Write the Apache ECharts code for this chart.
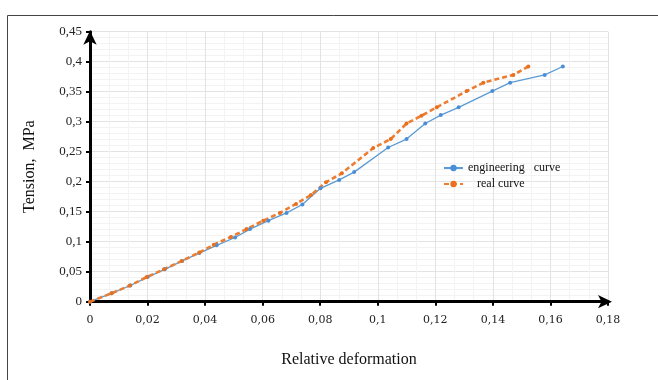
<!DOCTYPE html>
<html>
<head>
<meta charset="utf-8">
<script src="https://cdn.jsdelivr.net/npm/echarts@6/dist/echarts.min.js"></script>
<style>html,body{margin:0;padding:0;background:#fff;}#c{width:658px;height:380px;}</style>
</head>
<body>
<div id="c"></div>
<script>
const engX = [0, 0.0075, 0.014, 0.020, 0.026, 0.032, 0.038, 0.044, 0.0504, 0.0556, 0.062, 0.0683, 0.0738, 0.0801, 0.0866, 0.0918, 0.1036, 0.110, 0.1165, 0.1219, 0.1281, 0.1398, 0.146, 0.158, 0.1643];
const engY = [0, 0.014, 0.027, 0.041, 0.054, 0.068, 0.081, 0.094, 0.107, 0.121, 0.135, 0.148, 0.162, 0.189, 0.203, 0.216, 0.257, 0.271, 0.297, 0.311, 0.324, 0.351, 0.365, 0.378, 0.392];
const realX = [0, 0.0075, 0.0139, 0.0197, 0.0257, 0.0319, 0.038, 0.043, 0.049, 0.0544, 0.0602, 0.066, 0.0716, 0.0768, 0.082, 0.0875, 0.0984, 0.1045, 0.110, 0.1152, 0.1205, 0.1309, 0.1367, 0.1471, 0.1523];
const realY = [0, 0.014, 0.027, 0.041, 0.054, 0.068, 0.082, 0.095, 0.108, 0.121, 0.135, 0.148, 0.163, 0.178, 0.199, 0.214, 0.256, 0.271, 0.297, 0.310, 0.324, 0.351, 0.365, 0.378, 0.392];
const seriesNames = ['engineering   curve', '   real curve'];
const xTitle = 'Relative deformation';
const yTitle = 'Tension,  MPa';

const fmt = v => String(Math.round(v * 100) / 100).replace('.', ',');
const chart = echarts.init(document.getElementById('c'), null, {renderer: 'canvas'});
chart.setOption({
  animation: false,
  backgroundColor: '#fff',
  graphic: [{
    type: 'rect', shape: {x: 7.5, y: 15.5, width: 700, height: 400},
    style: {fill: 'none', stroke: '#444', lineWidth: 1}, z: -1
  }],
  grid: {left: 90, right: 50, top: 31.7, bottom: 78.3},
  legend: {
    orient: 'vertical', left: 438, top: 157, itemWidth: 19, itemHeight: 8, itemGap: 4,
    data: seriesNames,
    textStyle: {fontFamily: 'Liberation Serif', fontSize: 12, color: '#111'}
  },
  xAxis: {
    type: 'value', min: 0, max: 0.18, interval: 0.02,
    name: xTitle, nameLocation: 'middle', nameGap: 50,
    nameTextStyle: {fontFamily: 'Liberation Serif', fontSize: 16, color: '#111'},
    axisLine: {show: true, onZero: false, lineStyle: {color: '#000', width: 3}, symbol: ['none', 'arrow'], symbolSize: [10, 14], symbolOffset: [0, 4]},
    axisTick: {show: true, length: 4, lineStyle: {color: '#000', width: 2}},
    axisLabel: {formatter: fmt, fontFamily: 'DejaVu Serif', fontSize: 11, color: '#222', margin: 13},
    splitLine: {show: true, lineStyle: {color: '#e3e3e3', width: 1}},
    minorTick: {show: false, splitNumber: 3},
    minorSplitLine: {show: true, lineStyle: {color: '#f3f3f3', width: 1}}
  },
  yAxis: {
    type: 'value', min: 0, max: 0.45, interval: 0.05,
    name: yTitle, nameLocation: 'middle', nameGap: 52, nameRotate: 90,
    nameTextStyle: {fontFamily: 'Liberation Serif', fontSize: 16, color: '#111'},
    axisLine: {show: true, onZero: false, lineStyle: {color: '#000', width: 3}, symbol: ['none', 'arrow'], symbolSize: [10, 14], symbolOffset: [0, 1]},
    axisTick: {show: true, length: 4, lineStyle: {color: '#000', width: 2}},
    axisLabel: {formatter: fmt, fontFamily: 'Liberation Serif', fontSize: 13, color: '#222', margin: 8},
    splitLine: {show: true, lineStyle: {color: '#e3e3e3', width: 1}},
    minorTick: {show: false, splitNumber: 5},
    minorSplitLine: {show: true, lineStyle: {color: '#f3f3f3', width: 1}}
  },
  series: [{
    name: seriesNames[0], type: 'line',
    data: engX.map((x, i) => [x, engY[i]]),
    symbol: 'circle', symbolSize: 4,
    itemStyle: {color: '#4a8ed8'},
    lineStyle: {color: '#5b9bd5', width: 1.3}
  }, {
    name: seriesNames[1], type: 'line',
    data: realX.map((x, i) => [x, realY[i]]),
    symbol: 'circle', symbolSize: 4,
    itemStyle: {color: '#e8701f'},
    lineStyle: {color: '#ed7d31', width: 2.6, type: [5, 3]}
  }]
});
</script>
</body>
</html>
